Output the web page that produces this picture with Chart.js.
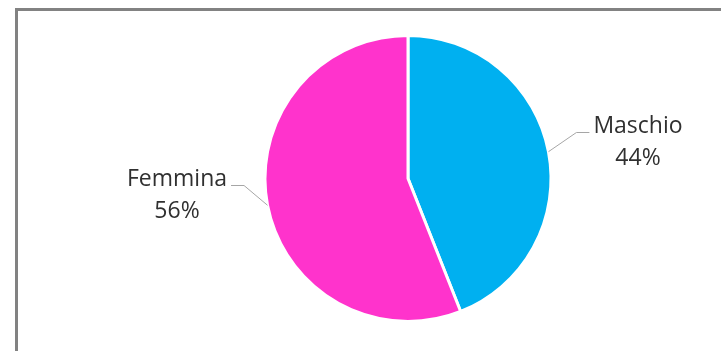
<!DOCTYPE html>
<html>
<head>
<meta charset="utf-8">
<script src="https://cdn.jsdelivr.net/npm/chart.js@4"></script>
<style>
  html, body { margin: 0; padding: 0; background: #ffffff; }
  #wrap { position: relative; width: 721px; height: 351px; }
  #frame { position: absolute; left: 15px; top: 8px; right: 0; bottom: 0;
           border-left: 3px solid #828282; border-top: 3px solid #828282; }
  canvas { position: absolute; left: 0; top: 0; }
</style>
</head>
<body>
<div id="wrap">
  <div id="frame"></div>
  <canvas id="pie" width="721" height="351"></canvas>
</div>
<script>
const labels = ['Maschio', 'Femmina']
const values = [44, 56]
const colors = ['#00B0F0', '#FF33CC']

// where each label sits, relative to the pie centre (px)
const labelSpots = [
  { dx: 230, dy: -52, side: 1 },
  { dx: -231, dy: 1, side: -1 }
]

const leaderLabels = {
  id: 'leaderLabels',
  afterDatasetsDraw(chart) {
    const ctx = chart.ctx
    const meta = chart.getDatasetMeta(0)
    const total = values.reduce((a, b) => a + b, 0)
    ctx.save()
    meta.data.forEach(function(arc, i) {
      const mid = (arc.startAngle + arc.endAngle) / 2
      const r = arc.outerRadius
      const ex = arc.x + Math.cos(mid) * r
      const ey = arc.y + Math.sin(mid) * r
      const spot = labelSpots[i]
      const tx = arc.x + spot.dx
      const ty = arc.y + spot.dy
      ctx.font = '23px "Open Sans"'
      const w = ctx.measureText(labels[i]).width
      // leader line: edge -> elbow -> label
      const endX = tx - spot.side * (w / 2 + 4)
      const elbowX = endX - spot.side * 13
      const lineY = ty + 6
      ctx.strokeStyle = '#A6A6A6'
      ctx.lineWidth = 1
      ctx.beginPath()
      ctx.moveTo(ex, ey)
      ctx.lineTo(elbowX, lineY)
      ctx.lineTo(endX, lineY)
      ctx.stroke()
      ctx.fillStyle = '#303030'
      ctx.textAlign = 'center'
      ctx.textBaseline = 'middle'
      ctx.fillText(labels[i], tx, ty)
      ctx.fillText(Math.round(values[i] / total * 100) + '%', tx, ty + 32)
    })
    ctx.restore()
  }
}

new Chart(document.getElementById('pie').getContext('2d'), {
  type: 'pie',
  data: {
    labels: labels,
    datasets: [{
      data: values,
      backgroundColor: colors,
      borderColor: '#ffffff',
      borderWidth: 3
    }]
  },
  options: {
    responsive: false,
    animation: false,
    layout: { padding: { top: 34, bottom: 28, left: 200, right: 105 } },
    plugins: {
      legend: { display: false },
      tooltip: { enabled: false }
    }
  },
  plugins: [leaderLabels]
})
</script>
</body>
</html>
